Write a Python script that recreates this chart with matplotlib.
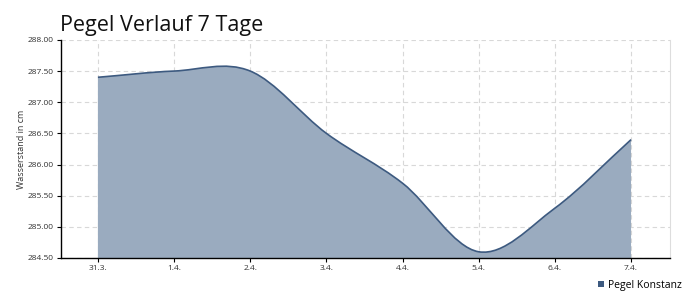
import matplotlib
matplotlib.use("Agg")
import matplotlib.pyplot as plt
from matplotlib.path import Path
from matplotlib.patches import PathPatch, Patch
import numpy as np

dates = ["31.3.", "1.4.", "2.4.", "3.4.", "4.4.", "5.4.", "6.4.", "7.4."]
pegel = [287.40, 287.50, 287.50, 286.50, 285.70, 284.60, 285.30, 286.40]
yticks = [284.5, 285.0, 285.5, 286.0, 286.5, 287.0, 287.5, 288.0]

plt.rcParams['font.family'] = ['Open Sans', 'DejaVu Sans']

fig = plt.figure(figsize=(7, 3), dpi=100)
ax = fig.add_axes([0.087, 0.14, 0.870, 0.727])

x = np.arange(len(dates), dtype=float)
y = np.array(pegel, dtype=float)

# Catmull-Rom spline through the data points, expressed as cubic Bezier segments
def catmull_rom(xs, ys):
    n = len(xs)
    mx = np.zeros(n); my = np.zeros(n)
    for i in range(n):
        if i == 0:
            mx[i] = xs[1] - xs[0]; my[i] = ys[1] - ys[0]
        elif i == n - 1:
            mx[i] = xs[-1] - xs[-2]; my[i] = ys[-1] - ys[-2]
        else:
            mx[i] = (xs[i+1] - xs[i-1]) / 2; my[i] = (ys[i+1] - ys[i-1]) / 2
    verts = [(xs[0], ys[0])]
    codes = [Path.MOVETO]
    for i in range(1, n):
        c1 = (xs[i-1] + mx[i-1]/3, ys[i-1] + my[i-1]/3)
        c2 = (xs[i] - mx[i]/3, ys[i] - my[i]/3)
        verts += [c1, c2, (xs[i], ys[i])]
        codes += [Path.CURVE4]*3
    return verts, codes

verts, codes = catmull_rom(x, y)
base = 284.5
fill_verts = verts + [(x[-1], base), (x[0], base), (x[0], y[0])]
fill_codes = codes + [Path.LINETO, Path.LINETO, Path.CLOSEPOLY]
ax.add_patch(PathPatch(Path(fill_verts, fill_codes), facecolor='#9aabbf', edgecolor='none', zorder=2))
ax.add_patch(PathPatch(Path(verts, codes), facecolor='none', edgecolor='#3d5a80', lw=1.2, zorder=3))

ax.set_xlim(-0.486, 7.51)
ax.set_ylim(284.5, 288.0)
ax.set_xticks(x)
ax.set_xticklabels(dates)
ax.set_yticks(yticks)
ax.set_yticklabels([f"{v:.2f}" for v in yticks])
ax.tick_params(axis='both', labelsize=6, length=3, width=0.8, color='#000000', pad=2, labelcolor='#333333')

ax.grid(True, color='#d8d8d8', linestyle=(0, (4, 3)), lw=0.8, zorder=1)
ax.set_axisbelow(True)
ax.spines['top'].set_visible(False)
ax.spines['right'].set_color('#dddddd')
ax.spines['right'].set_linewidth(0.8)
for s in ['left', 'bottom']:
    ax.spines[s].set_color('#000000')
    ax.spines[s].set_linewidth(1)

ax.set_ylabel("Wasserstand in cm", fontsize=6.5, color='#333333', labelpad=1)

fig.text(0.086, 0.895, "Pegel Verlauf 7 Tage", fontsize=15.5, color='#111111', ha='left', va='baseline')

handle = Patch(facecolor='#3d5a80', edgecolor='none')
fig.legend([handle], ["Pegel Konstanz"], loc='lower right', bbox_to_anchor=(0.988, 0.0),
           frameon=False, fontsize=7.5, handlelength=0.6, handleheight=0.6, handletextpad=0.4)

fig.savefig("out.png", dpi=100)
